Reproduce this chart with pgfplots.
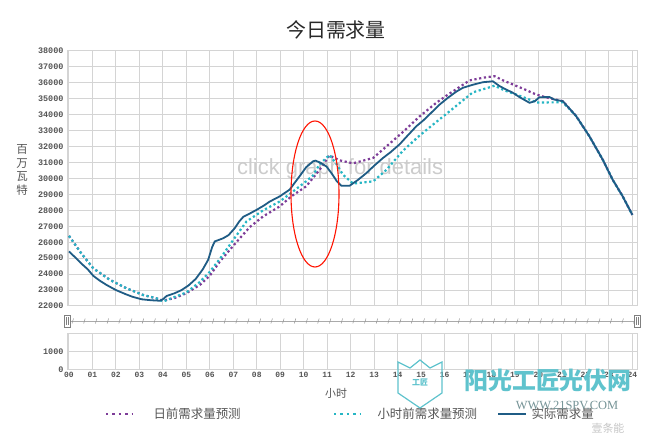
\documentclass[border=0pt]{standalone}
\usepackage{pgfplots}
\pgfplotsset{compat=1.18}
\usepackage{fontspec}
\setmainfont{Liberation Sans}
\newfontfamily\cjk{Noto Sans CJK SC}
\newfontfamily\tickf{Liberation Mono}
\newfontfamily\serifw{Liberation Serif}
\definecolor{dapurple}{RGB}{125,60,152}
\definecolor{haTeal}{RGB}{38,182,196}
\definecolor{actblue}{RGB}{31,92,133}
\definecolor{gridc}{RGB}{212,212,212}
\definecolor{labc}{RGB}{85,85,85}
\definecolor{logoc}{RGB}{95,195,205}
\begin{document}
\begin{tikzpicture}[x=1bp,y=1bp]
\path[use as bounding box] (0,0) rectangle (650,440);
\fill[white] (0,0) rectangle (650,440);
% ---------- main axis ----------
\begin{axis}[name=main, at={(67bp,134bp)}, anchor=south west,
 width=570bp, height=255bp, scale only axis,
 xmin=-0.085, xmax=24.2, ymin=22000, ymax=38000,
 xtick={0,...,24}, xticklabels={},
 ytick={22000,23000,...,38000},
 scaled y ticks=false,
 grid=major, major grid style={gridc, line width=1bp},
 axis line style={gridc, line width=1bp},
 tick style={draw=none},
 /pgf/number format/assume math mode=true,
 /pgf/number format/set thousands separator={},
 yticklabel style={font=\tickf\bfseries\fontsize{8.5}{9}\selectfont, text=labc, xshift=0bp},
 clip=true]
% watermark behind the lines
\node[font=\fontsize{22}{25}\selectfont, text=gray!40] at (axis cs:11.55,30600) {click graph for details};
% day-ahead forecast
\addplot[dapurple, line width=2.2bp, dash pattern=on 2.2bp off 2.6bp] coordinates {
(0,26400) (0.5,25350) (1.03,24370) (1.74,23640) (2.45,23110) (3.16,22690) (3.73,22480)
(4.01,22330) (4.5,22500) (5.0,22800) (5.6,23350) (6.0,23900) (6.43,24800) (7.13,26000)
(7.7,26950) (8.27,27620) (8.98,28250) (9.47,28880) (10.1,29500) (10.68,30550) (11.1,31450)
(11.5,31150) (12.1,30950) (12.96,31290) (13.53,32020) (14.2,32880) (14.94,33900)
(15.65,34750) (16.14,35260) (16.6,35700) (17.06,36150) (17.63,36320) (18.13,36420)
(18.5,36150) (18.91,35900) (19.4,35600) (19.9,35270) (20.3,35100) (21.04,34850)
(21.6,33930) (22.17,32650) (22.74,31180) (23.16,29930) (23.59,28880) (24.0,27720)};
% hour-ahead forecast
\addplot[haTeal, line width=2.2bp, dash pattern=on 2.2bp off 2.6bp] coordinates {
(0,26400) (0.5,25350) (1.03,24370) (1.74,23640) (2.45,23110) (3.16,22690) (3.73,22480)
(4.01,22280) (4.3,22450) (5.0,22850) (5.57,23500) (6.0,24150) (6.5,25100) (7.0,26150)
(7.56,27300) (8.27,28000) (8.98,28560) (9.55,29190) (10.1,29820) (10.4,30200)
(10.68,30900) (11.1,31480) (11.4,30900) (11.67,30240) (12.1,29680) (12.96,29820)
(13.53,30550) (14.2,31700) (14.94,32700) (15.65,33550) (16.2,34200) (17.2,35400)
(18.13,35820) (18.6,35500) (19.09,35250) (19.94,34770) (21.04,34780)
(21.6,33930) (22.17,32650) (22.74,31180) (23.16,29930) (23.59,28880) (24.0,27720)};
% actual demand
\addplot[actblue, line width=1.8bp] coordinates {
(0,25420) (0.3,25000) (0.5,24700) (0.8,24300) (1.03,23900) (1.3,23600) (1.6,23320)
(2.0,23000) (2.4,22750) (2.7,22580) (3.1,22420) (3.5,22360) (3.87,22330) (4.0,22420)
(4.16,22630) (4.5,22800) (4.8,23000) (5.1,23300) (5.4,23700) (5.7,24300) (5.93,24900)
(6.1,25700) (6.21,26050) (6.57,26250) (6.8,26450) (7.06,26880) (7.25,27300) (7.43,27600)
(7.7,27800) (8.0,28040) (8.3,28300) (8.55,28550) (8.98,28880) (9.2,29100) (9.4,29300)
(9.6,29700) (9.83,30150) (10.1,30700) (10.4,31080) (10.5,31120) (10.7,31000)
(10.97,30750) (11.2,30300) (11.4,29850) (11.6,29550) (11.96,29550) (12.3,29900)
(12.67,30340) (13.0,30800) (13.38,31290) (13.7,31650) (14.09,32150) (14.4,32650)
(14.8,33280) (15.1,33650) (15.5,34220) (15.8,34650) (16.14,35060) (16.5,35450)
(16.78,35690) (17.2,35880) (17.63,36040) (18.06,36100) (18.34,35800) (18.6,35600)
(18.91,35380) (19.2,35100) (19.62,34750) (19.85,34850) (20.04,35100) (20.47,35110)
(20.68,34950) (21.04,34850)
(21.6,33930) (22.17,32650) (22.74,31180) (23.16,29930) (23.59,28880) (24.0,27720)};
\end{axis}
% ---------- navigator axis ----------
\begin{axis}[name=nav, at={(67bp,70bp)}, anchor=south west,
 width=570bp, height=36bp, scale only axis,
 xmin=-0.085, xmax=24.2, ymin=0, ymax=2000,
 xtick={0,...,24},
 xticklabels={00,01,02,03,04,05,06,07,08,09,10,11,12,13,14,15,16,17,18,19,20,21,22,23,24},
 ytick={0,1000},
 scaled y ticks=false,
 grid=major, major grid style={gridc, line width=1bp},
 axis line style={gridc, line width=1bp},
 tick style={draw=none},
 /pgf/number format/assume math mode=true,
 /pgf/number format/set thousands separator={},
 yticklabel style={font=\tickf\bfseries\fontsize{8.5}{9}\selectfont, text=labc, xshift=0bp},
 xticklabel style={font=\tickf\bfseries\fontsize{8}{9}\selectfont, text=labc, yshift=1bp}]
\addplot[draw=none] coordinates {(0,0) (24,0)};
\end{axis}
% ---------- scrollbar ----------
\draw[gridc!80!black, line width=0.8bp] (67,119) -- (637,119);
\foreach \i in {0,...,48} {\draw[gridc!70!black, line width=0.5bp] (72+\i*11.7,116.5) -- (73.5+\i*11.7,121.5);}
\foreach \xx in {64,634} {\draw[gray, line width=0.6bp, fill=white] (\xx,113) rectangle (\xx+6,125);
 \draw[gray, line width=0.5bp] (\xx+2,115) -- (\xx+2,123) (\xx+4,115) -- (\xx+4,123);}
% ---------- texts ----------
\node[font=\cjk\fontsize{20}{24}\selectfont, text={rgb,255:red,40;green,40;blue,40}] at (336,410) {今日需求量};
\node[font=\cjk\fontsize{11.5}{13.5}\selectfont, text=labc, align=center] at (22,270) {百\\万\\瓦\\特};
\node[font=\cjk\fontsize{11}{13}\selectfont, text=labc] at (336,47) {小时};
% red ellipse
\draw[red!85!orange, line width=1.1bp] (315,246) ellipse [x radius=24, y radius=73];
% ---------- legend ----------
\draw[dapurple, line width=2.4bp, dash pattern=on 2.4bp off 4bp] (106,26) -- (132,26);
\node[font=\cjk\fontsize{12.5}{14}\selectfont, text=labc, anchor=west] at (150,26) {日前需求量预测};
\draw[haTeal, line width=2.4bp, dash pattern=on 2.4bp off 4bp] (334,26) -- (360,26);
\node[font=\cjk\fontsize{12.5}{14}\selectfont, text=labc, anchor=west] at (374,26) {小时前需求量预测};
\draw[actblue, line width=2.2bp] (498,26) -- (526,26);
\node[font=\cjk\fontsize{12.5}{14}\selectfont, text=labc, anchor=west] at (528,26) {实际需求量};
% ---------- logo watermark ----------
\draw[logoc, line width=1.2bp] (398,78) -- (398,47) -- (420,32) -- (442,47) -- (442,78) -- (430,72) -- (420,80) -- (410,72) -- cycle;
\node[font=\cjk\bfseries\fontsize{8}{9}\selectfont, text=logoc] at (420,58) {工匠};
\node[font=\cjk\bfseries\fontsize{24}{26}\selectfont, text=logoc] at (548,60) {阳光工匠光伏网};
\node[font=\serifw\fontsize{12.5}{14}\selectfont, text=gray!70!logoc] at (567,35) {WWW.21SPV.COM};
\node[font=\cjk\fontsize{11}{13}\selectfont, text=gray!45] at (608,12) {壹条能};
\end{tikzpicture}
\end{document}
